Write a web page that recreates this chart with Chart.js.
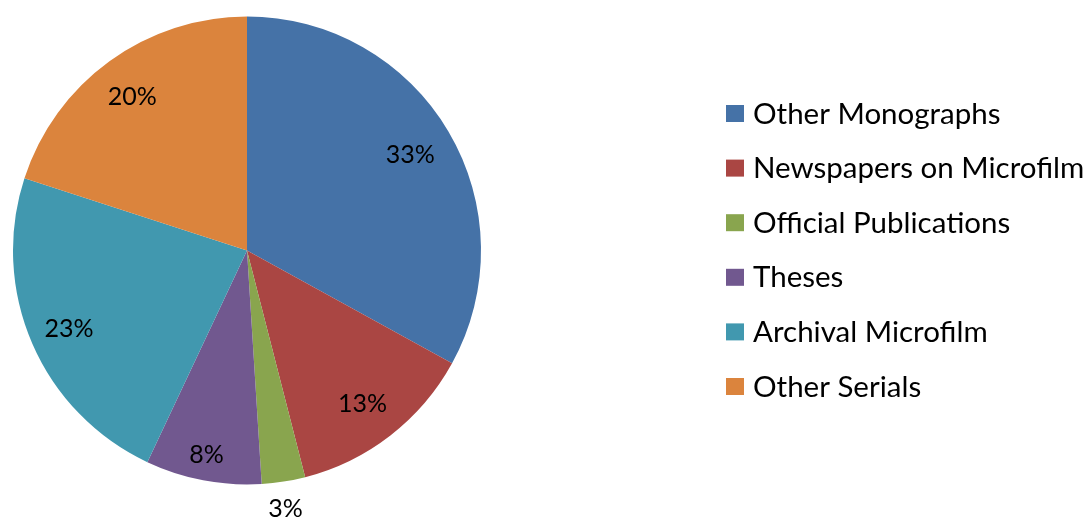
<!DOCTYPE html>
<html>
<head>
<meta charset="utf-8">
<script src="https://cdn.jsdelivr.net/npm/chart.js@4"></script>
<style>
  html, body { margin: 0; padding: 0; background: #fff; }
  #wrap { width: 1090px; height: 519px; }
</style>
</head>
<body>
<div id="wrap"><canvas id="pieChart" width="1090" height="519"></canvas></div>
<script>
const categories = ['Other Monographs', 'Newspapers on Microfilm', 'Official Publications', 'Theses', 'Archival Microfilm', 'Other Serials'];
const shares = [33, 13, 3, 8, 23, 20];
const sliceColors = ['#4572A7', '#AA4643', '#89A54E', '#71588F', '#4198AF', '#DB843D'];

const FONT = 'Lato, "Open Sans", sans-serif';

// percentage labels on the slices
const sliceLabels = {
    id: 'sliceLabels',
    afterDatasetsDraw(chart) {
        const ctx = chart.ctx;
        const meta = chart.getDatasetMeta(0);
        ctx.save();
        ctx.font = '25px ' + FONT;
        ctx.fillStyle = '#000';
        ctx.textAlign = 'center';
        ctx.textBaseline = 'middle';
        meta.data.forEach((arc, i) => {
            const mid = (arc.startAngle + arc.endAngle) / 2;
            const k = shares[i] < 5 ? 1.11 : (shares[i] < 10 ? 0.88 : 0.82);
            const r = arc.outerRadius * k;
            ctx.fillText(shares[i] + '%', arc.x + Math.cos(mid) * r - 2, arc.y + Math.sin(mid) * r + 2);
        });
        ctx.restore();
    }
};

// legend on the right
const sideLegend = {
    id: 'sideLegend',
    afterDraw(chart) {
        const ctx = chart.ctx;
        ctx.save();
        ctx.font = '29.5px ' + FONT;
        ctx.textBaseline = 'middle';
        categories.forEach((name, i) => {
            const y = 114 + i * 54.6;
            ctx.fillStyle = sliceColors[i];
            ctx.fillRect(726, y - 9, 18, 17);
            ctx.fillStyle = '#000';
            ctx.fillText(name, 753, y);
        });
        ctx.restore();
    }
};

const pieCtx = document.getElementById('pieChart').getContext('2d');
const pieChart = new Chart(pieCtx, {
    type: 'pie',
    data: {
        labels: categories,
        datasets: [{
            data: shares,
            backgroundColor: sliceColors,
            borderWidth: 0
        }]
    },
    options: {
        responsive: false,
        animation: false,
        layout: {
            padding: { left: 13, right: 609, top: 16, bottom: 34 }
        },
        plugins: {
            legend: { display: false },
            tooltip: { enabled: false }
        }
    },
    plugins: [sliceLabels, sideLegend]
});
</script>
</body>
</html>
